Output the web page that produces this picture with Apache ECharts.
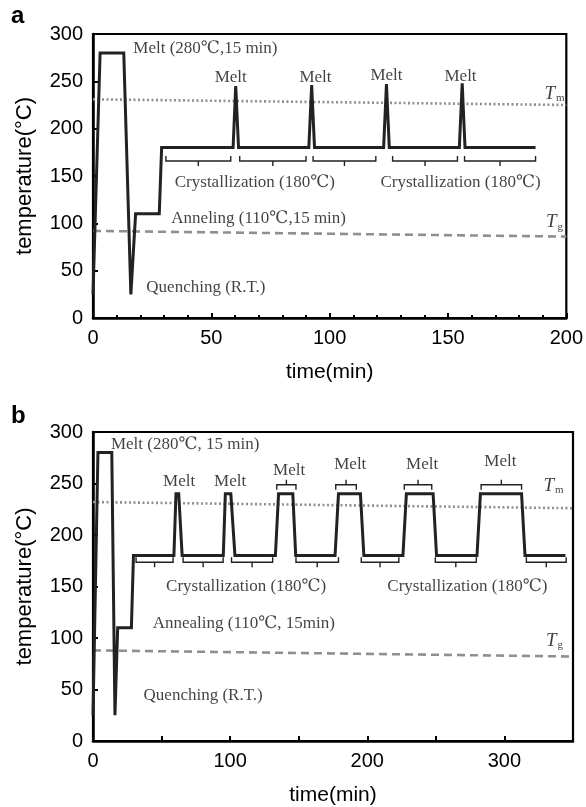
<!DOCTYPE html>
<html lang="en">
<head>
    <meta charset="UTF-8">
    <title>Thermal history</title>
    <script src="https://cdn.jsdelivr.net/npm/echarts@6.0.0/dist/echarts.min.js"></script>
    <style>
        html, body { margin: 0; padding: 0; background: #fff; }
        #main { width: 586px; height: 807px; }
    </style>
</head>
<body>
    <div id="main"></div>
    <script>
        // ---- panel a data ----
        var timeA = [0, 3, 13, 16, 18, 28, 29, 59.2, 60.3, 61.5, 91.2, 92.4, 93.6, 122.8, 124, 125.2, 154.8, 156, 157.2, 187];
        var tempA = [25, 280, 280, 25, 110, 110, 180, 180, 245, 180, 180, 246, 180, 180, 247, 180, 180, 248, 180, 180];
        var tmA = [231, 225];   // Tm at t=0 and t=200
        var tgA = [92, 86];
        var crystSpansA = [[30.8, 58.2], [62, 90], [93, 119.5], [126.6, 154], [157, 187]];
        var notesA = [
            { name: 'Melt (280℃,15 min)', value: [47.5, 285] },
            { name: 'Melt', value: [58.2, 254.5] },
            { name: 'Melt', value: [94, 254.5] },
            { name: 'Melt', value: [124, 256.5] },
            { name: 'Melt', value: [155.3, 255.5] },
            { name: 'Crystallization (180℃)', value: [68.4, 143.6] },
            { name: 'Crystallization (180℃)', value: [155.3, 142.6] },
            { name: 'Anneling (110℃,15 min)', value: [70, 105.6] },
            { name: 'Quenching (R.T.)', value: [47.7, 31.7] }
        ];

        // ---- panel b data ----
        var timeB = [0, 3.6, 13.7, 16, 18, 28, 29.5, 59, 60.5, 62.5, 65, 95, 96.5, 100.5, 103.5, 133, 135.3, 145.7, 147.8,
            176.5, 179, 195, 197.5, 226, 228.5, 248, 250.5, 280, 282.5, 312.5, 315, 344.5];
        var tempB = [25, 280, 280, 25, 110, 110, 180, 180, 240, 240, 180, 180, 240, 240, 180, 180, 240, 240, 180,
            180, 240, 240, 180, 180, 240, 240, 180, 180, 240, 240, 180, 180];
        var tmB = [232, 226];   // Tm at t=0 and t=350
        var tgB = [88, 82];
        var crystSpansB = [[31.4, 58.4], [65.7, 94.9], [101, 131], [148, 179], [195.6, 223], [249.6, 279.5], [316, 345]];
        var meltSpansB = [[134, 148], [177, 192], [227, 247], [283, 312.5]];
        var notesB = [
            { name: 'Melt (280℃, 15 min)', value: [67.2, 287.4] },
            { name: 'Melt', value: [62.8, 251.7] },
            { name: 'Melt', value: [100, 251.7] },
            { name: 'Melt', value: [143, 263] },
            { name: 'Melt', value: [187.6, 268] },
            { name: 'Melt', value: [240, 268] },
            { name: 'Melt', value: [297, 271] },
            { name: 'Crystallization (180℃)', value: [111.7, 150.4] },
            { name: 'Crystallization (180℃)', value: [273, 149.5] },
            { name: 'Annealing (110℃, 15min)', value: [110, 113.8] },
            { name: 'Quenching (R.T.)', value: [80.3, 44.4] }
        ];

        var serif = '"Liberation Serif", "DejaVu Serif", "Noto Sans CJK JP", serif';
        var sans = '"Liberation Sans", Arial, sans-serif';

        function zip(xs, ys) {
            return xs.map(function (x, i) { return [x, ys[i]]; });
        }

        // bracket drawn from a [start, end] span at a temperature level
        // dir 1: ends point up, middle tick down (below a plateau); -1 the other way
        function bracketSeries(spans, level, dir, idx) {
            return {
                type: 'custom',
                xAxisIndex: idx,
                yAxisIndex: idx,
                silent: true,
                data: spans.map(function (s) { return [s[0], s[1], level]; }),
                encode: { x: [0, 1], y: 2 },
                renderItem: function (params, api) {
                    var a = api.coord([api.value(0), api.value(2)]);
                    var b = api.coord([api.value(1), api.value(2)]);
                    var m = (a[0] + b[0]) / 2;
                    var y = a[1];
                    return {
                        type: 'polyline',
                        shape: {
                            points: [[a[0], y - 5 * dir], [a[0], y], [m, y], [m, y + 5 * dir],
                                [m, y], [b[0], y], [b[0], y - 5 * dir]]
                        },
                        style: { stroke: '#222', lineWidth: 1.4, fill: null }
                    };
                }
            };
        }

        function noteSeries(notes, idx) {
            return {
                type: 'scatter',
                xAxisIndex: idx,
                yAxisIndex: idx,
                silent: true,
                symbolSize: 0,
                data: notes,
                label: {
                    show: true,
                    position: 'inside',
                    formatter: '{b}',
                    fontFamily: serif,
                    fontSize: 17,
                    color: '#111'
                }
            };
        }

        function markSeries(label, pos, idx) {
            return {
                type: 'scatter',
                xAxisIndex: idx,
                yAxisIndex: idx,
                silent: true,
                symbolSize: 0,
                data: [{ name: label, value: pos }],
                label: {
                    show: true,
                    position: 'inside',
                    formatter: '{t|T}{s|' + label + '}',
                    rich: {
                        t: { fontFamily: serif, fontStyle: 'italic', fontSize: 19, color: '#111' },
                        s: { fontFamily: serif, fontSize: 11, color: '#111', padding: [9, 0, 0, 1] }
                    }
                }
            };
        }

        function refLine(xMax, ys, type, idx) {
            return {
                type: 'line',
                xAxisIndex: idx,
                yAxisIndex: idx,
                silent: true,
                symbol: 'none',
                data: zip([0, xMax], ys),
                lineStyle: { color: '#8f8f8f', width: 2.6, type: type }
            };
        }

        function xAxisCfg(idx, max, interval, labelStep, minor) {
            return {
                type: 'value',
                gridIndex: idx,
                min: 0,
                max: max,
                interval: interval,
                name: 'time(min)',
                nameLocation: 'middle',
                nameGap: 44,
                nameTextStyle: { fontFamily: sans, fontSize: 21, color: '#000' },
                axisLine: { lineStyle: { color: '#000', width: 2.5 } },
                axisTick: { inside: true, length: 5, lineStyle: { color: '#000', width: 2 } },
                minorTick: minor ? { show: true, splitNumber: 5, length: 3, lineStyle: { color: '#000', width: 2 } } : { show: false },
                splitLine: { show: false },
                axisLabel: {
                    fontFamily: sans, fontSize: 20, color: '#000', margin: 10,
                    formatter: function (v) { return v % labelStep === 0 ? String(v) : ''; }
                }
            };
        }

        function yAxisCfg(idx) {
            return {
                type: 'value',
                gridIndex: idx,
                min: 0,
                max: 300,
                interval: 50,
                name: 'temperature(°C)',
                nameLocation: 'middle',
                nameGap: 57,
                nameTextStyle: { fontFamily: sans, fontSize: 22, color: '#000' },
                axisLine: { lineStyle: { color: '#000', width: 2.5 } },
                axisTick: { inside: true, length: 5, lineStyle: { color: '#000', width: 2 } },
                splitLine: { show: false },
                axisLabel: { fontFamily: sans, fontSize: 20, color: '#000', margin: 10 }
            };
        }

        var myChart = echarts.init(document.getElementById('main'));

        var option = {
            animation: false,
            backgroundColor: '#fff',
            graphic: [
                { type: 'text', left: 11, top: 4, style: { text: 'a', font: 'bold 24px "Liberation Sans", Arial', fill: '#000' } },
                { type: 'text', left: 11, top: 404, style: { text: 'b', font: 'bold 24px "Liberation Sans", Arial', fill: '#000' } }
            ],
            grid: [
                { left: 93, top: 34, width: 474, height: 284, show: true, borderColor: '#000', borderWidth: 2.2, backgroundColor: 'transparent' },
                { left: 93, top: 432, width: 480, height: 311, show: true, borderColor: '#000', borderWidth: 2.2, backgroundColor: 'transparent' }
            ],
            xAxis: [xAxisCfg(0, 200, 50, 50, true), xAxisCfg(1, 350, 50, 100, false)],
            yAxis: [yAxisCfg(0), yAxisCfg(1)],
            series: [
                refLine(200, tmA, [2, 2.5], 0),
                refLine(200, tgA, [8, 5], 0),
                {
                    type: 'line', xAxisIndex: 0, yAxisIndex: 0, silent: true, symbol: 'none',
                    data: zip(timeA, tempA),
                    lineStyle: { color: '#222', width: 3, join: 'miter' }
                },
                bracketSeries(crystSpansA, 165.8, 1, 0),
                noteSeries(notesA, 0),
                markSeries('m', [195, 237], 0),
                markSeries('g', [195, 101], 0),

                refLine(350, tmB, [2, 2.5], 1),
                refLine(350, tgB, [8, 5], 1),
                {
                    type: 'line', xAxisIndex: 1, yAxisIndex: 1, silent: true, symbol: 'none',
                    data: zip(timeB, tempB),
                    lineStyle: { color: '#222', width: 3, join: 'miter' }
                },
                bracketSeries(crystSpansB, 173.6, 1, 1),
                bracketSeries(meltSpansB, 248.8, -1, 1),
                noteSeries(notesB, 1),
                markSeries('m', [335.8, 248], 1),
                markSeries('g', [336.5, 97.4], 1)
            ]
        };
        myChart.setOption(option);
    </script>
</body>
</html>
